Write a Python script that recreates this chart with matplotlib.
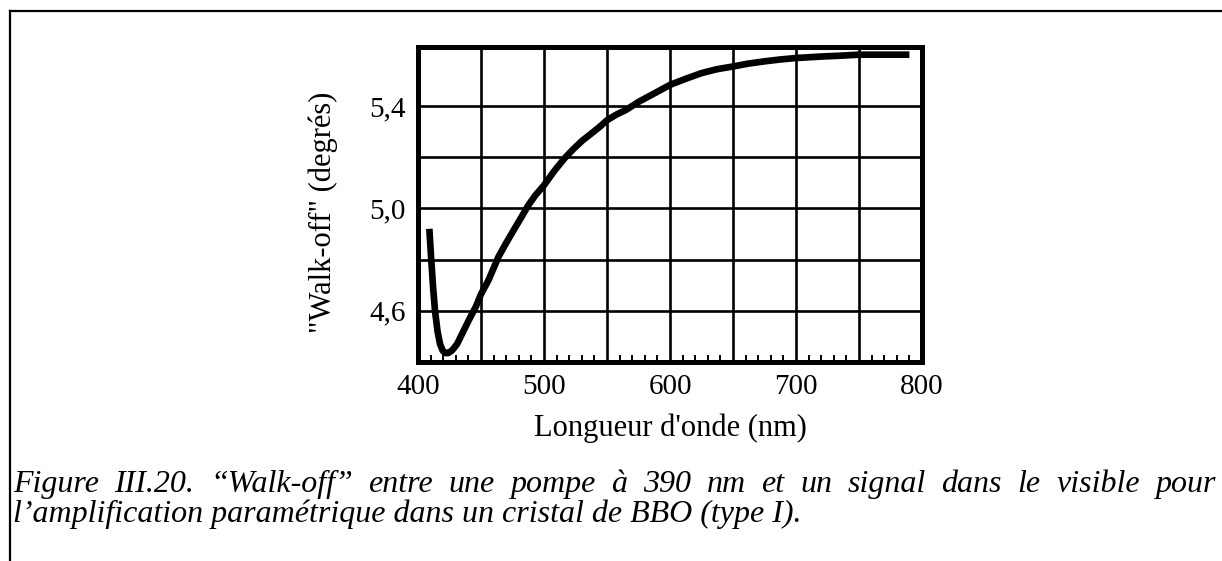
import numpy as np
import matplotlib
matplotlib.use("Agg")
import matplotlib.pyplot as plt
from matplotlib.lines import Line2D
from matplotlib.ticker import MultipleLocator, FixedLocator, FuncFormatter

# Walk-off angle between a 390 nm pump and a visible signal (BBO, type I)
wavelength_nm = [409, 410.5, 412, 413.5, 415.5, 417.5, 419.5, 421.5, 424, 427,
                 431, 436.5, 441, 446, 450, 456, 463.8, 470, 476.8, 482,
                 487.3, 493, 500, 508, 516.6, 523, 530.3, 537, 543.9, 550,
                 557, 565, 575.5, 588, 600, 612, 625, 637, 650, 662,
                 675, 687, 700, 721, 735, 750, 770, 790]
walkoff_deg = [4.92, 4.80, 4.69, 4.60, 4.52, 4.47, 4.445, 4.435, 4.435, 4.445,
               4.47, 4.525, 4.57, 4.617, 4.665, 4.72, 4.81, 4.865, 4.922, 4.965,
               5.01, 5.05, 5.09, 5.145, 5.197, 5.23, 5.264, 5.29, 5.317, 5.344,
               5.365, 5.384, 5.417, 5.45, 5.482, 5.505, 5.528, 5.543, 5.554, 5.565,
               5.574, 5.581, 5.587, 5.593, 5.596, 5.60, 5.60, 5.60]

x_tick_labels = ["400", "500", "600", "700", "800"]
y_tick_labels = ["4,6", "5,0", "5,4"]

x_label = "Longueur d'onde (nm)"
y_label = "\"Walk-off\" (degrés)"
caption_line1 = ("Figure III.20. \u201cWalk-off\u201d entre une pompe \u00e0 390 nm "
                 "et un signal dans le visible pour")
caption_line2 = ("l\u2019amplification param\u00e9trique dans un cristal "
                 "de BBO (type I).")

SERIF = "Liberation Serif"
W, H = 1222, 561

fig = plt.figure(figsize=(W / 100, H / 100), dpi=100)
fig.patch.set_facecolor("white")

# axes box in pixel terms
ax_l, ax_r, ax_t, ax_b = 418, 922, 47, 362
ax = fig.add_axes([ax_l / W, 1 - ax_b / H, (ax_r - ax_l) / W, (ax_b - ax_t) / H])

ax.plot(wavelength_nm, walkoff_deg, color="black", lw=4.8,
        solid_joinstyle="round", solid_capstyle="butt", zorder=3)

ax.set_xlim(400, 800)
ax.set_ylim(4.4, 5.63)

# grid every 50 nm / 0.2 degree, labels every 100 nm / 0.4 degree
ax.xaxis.set_major_locator(MultipleLocator(50))
ax.xaxis.set_minor_locator(MultipleLocator(10))
ax.yaxis.set_major_locator(FixedLocator([4.6, 4.8, 5.0, 5.2, 5.4]))


def fmt_x(v, pos):
    s = str(int(round(v)))
    return s if s in x_tick_labels else ""


def fmt_y(v, pos):
    s = f"{v:.1f}".replace(".", ",")
    return s if s in y_tick_labels else ""


ax.xaxis.set_major_formatter(FuncFormatter(fmt_x))
ax.yaxis.set_major_formatter(FuncFormatter(fmt_y))

ax.grid(True, which="major", color="black", lw=1.9, zorder=1)
ax.tick_params(which="major", length=0, pad=9, labelsize=21)
ax.tick_params(axis="x", which="minor", direction="in", length=5, width=1.4,
               bottom=True, top=False)
ax.tick_params(axis="y", which="minor", left=False, right=False)
for lbl in ax.get_xticklabels() + ax.get_yticklabels():
    lbl.set_fontfamily(SERIF)

for sp in ax.spines.values():
    sp.set_linewidth(3.6)
    sp.set_zorder(4)

ax.set_xlabel(x_label, fontfamily=SERIF, fontsize=22)
ax.xaxis.set_label_coords(0.5, (ax_b - 428) / (ax_b - ax_t))
ax.xaxis.label.set_va("center")
ax.set_ylabel(y_label, fontfamily=SERIF, fontsize=22)
ax.yaxis.set_label_coords((323 - ax_l) / (ax_r - ax_l), (ax_b - 212) / (ax_b - ax_t))
ax.yaxis.label.set_va("center")

# page frame: top and left rules
frame_kw = dict(color="black", lw=1.6, transform=fig.transFigure)
fig.add_artist(Line2D([10 / W, 10 / W], [0, 1 - 11 / H], **frame_kw))
fig.add_artist(Line2D([10 / W, 1.0], [1 - 11 / H, 1 - 11 / H], **frame_kw))

# caption: first line justified across the page, second line flush left
cap_kw = dict(fontfamily=SERIF, fontstyle="italic", fontsize=23,
              va="baseline", ha="left", transform=None)
renderer = fig.canvas.get_renderer()
x0, x1 = 13, 1216
base1, base2 = H - 492, H - 522
words = caption_line1.split(" ")
texts = [fig.text(0, 0, w, **cap_kw) for w in words]
widths = [t.get_window_extent(renderer).width for t in texts]
gap = (x1 - x0 - sum(widths)) / (len(words) - 1)
xpos = x0
for t, wd in zip(texts, widths):
    t.set_position((xpos, base1))
    xpos += wd + gap
fig.text(x0, base2, caption_line2, **cap_kw)

fig.savefig("out.png", dpi=100, facecolor="white")
